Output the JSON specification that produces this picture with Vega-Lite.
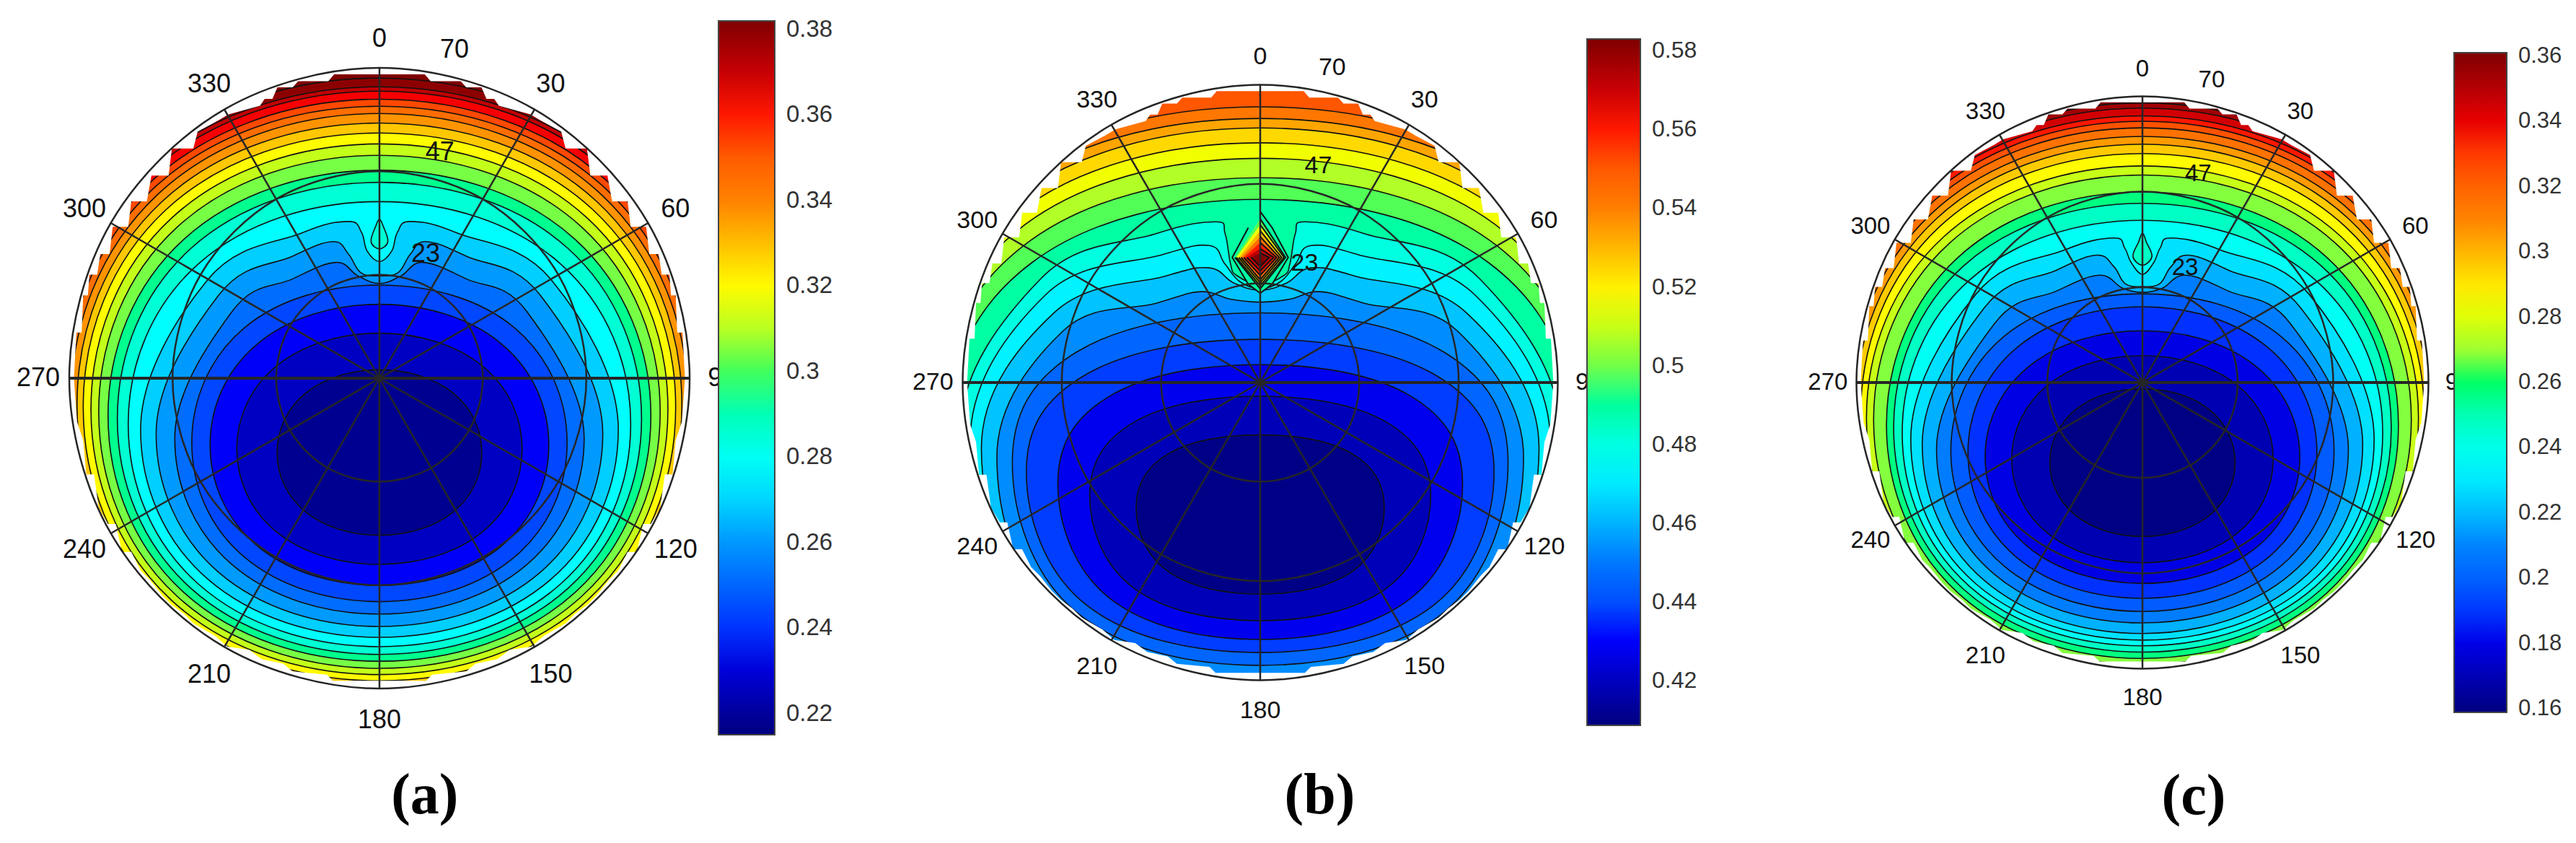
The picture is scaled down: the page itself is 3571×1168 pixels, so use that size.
{"$schema":"https://vega.github.io/schema/vega-lite/v6.json","padding":0,"spacing":0,"background":"white","config":{"view":{"stroke":null},"concat":{"spacing":0}},"resolve":{"scale":{"fill":"independent"},"legend":{"fill":"independent"}},
"datasets":{
"a":[
{"v":0.382,"o":0,"x":0,"y":1.18},{"v":0.382,"o":1,"x":0.9,"y":0.9},{"v":0.382,"o":2,"x":1.18,"y":0},{"v":0.382,"o":3,"x":0.9,"y":-0.9},{"v":0.382,"o":4,"x":0,"y":-1.18},{"v":0.382,"o":5,"x":-0.9,"y":-0.9},{"v":0.382,"o":6,"x":-1.18,"y":0},{"v":0.382,"o":7,"x":-0.9,"y":0.9},
{"v":0.3795,"o":0,"x":0,"y":0.967},{"v":0.3795,"o":1,"x":0.788,"y":0.675},{"v":0.3795,"o":2,"x":1.095,"y":-0.074},{"v":0.3795,"o":3,"x":0.788,"y":-0.824},{"v":0.3795,"o":4,"x":0,"y":-1.115},{"v":0.3795,"o":5,"x":-0.788,"y":-0.824},{"v":0.3795,"o":6,"x":-1.095,"y":-0.074},{"v":0.3795,"o":7,"x":-0.788,"y":0.675},
{"v":0.371,"o":0,"x":0,"y":0.939},{"v":0.371,"o":1,"x":0.774,"y":0.654},{"v":0.371,"o":2,"x":1.075,"y":-0.078},{"v":0.371,"o":3,"x":0.774,"y":-0.81},{"v":0.371,"o":4,"x":0,"y":-1.095},{"v":0.371,"o":5,"x":-0.774,"y":-0.81},{"v":0.371,"o":6,"x":-1.075,"y":-0.078},{"v":0.371,"o":7,"x":-0.774,"y":0.654},
{"v":0.3625,"o":0,"x":0,"y":0.925},{"v":0.3625,"o":1,"x":0.76,"y":0.645},{"v":0.3625,"o":2,"x":1.055,"y":-0.075},{"v":0.3625,"o":3,"x":0.76,"y":-0.795},{"v":0.3625,"o":4,"x":0,"y":-1.075},{"v":0.3625,"o":5,"x":-0.76,"y":-0.795},{"v":0.3625,"o":6,"x":-1.055,"y":-0.075},{"v":0.3625,"o":7,"x":-0.76,"y":0.645},
{"v":0.354,"o":0,"x":0,"y":0.899},{"v":0.354,"o":1,"x":0.745,"y":0.625},{"v":0.354,"o":2,"x":1.035,"y":-0.078},{"v":0.354,"o":3,"x":0.745,"y":-0.782},{"v":0.354,"o":4,"x":0,"y":-1.055},{"v":0.354,"o":5,"x":-0.745,"y":-0.782},{"v":0.354,"o":6,"x":-1.035,"y":-0.078},{"v":0.354,"o":7,"x":-0.745,"y":0.625},
{"v":0.3455,"o":0,"x":0,"y":0.876},{"v":0.3455,"o":1,"x":0.731,"y":0.609},{"v":0.3455,"o":2,"x":1.015,"y":-0.08},{"v":0.3455,"o":3,"x":0.731,"y":-0.767},{"v":0.3455,"o":4,"x":0,"y":-1.035},{"v":0.3455,"o":5,"x":-0.731,"y":-0.767},{"v":0.3455,"o":6,"x":-1.015,"y":-0.08},{"v":0.3455,"o":7,"x":-0.731,"y":0.609},
{"v":0.337,"o":0,"x":0,"y":0.853},{"v":0.337,"o":1,"x":0.716,"y":0.591},{"v":0.337,"o":2,"x":0.995,"y":-0.081},{"v":0.337,"o":3,"x":0.716,"y":-0.754},{"v":0.337,"o":4,"x":0,"y":-1.015},{"v":0.337,"o":5,"x":-0.716,"y":-0.754},{"v":0.337,"o":6,"x":-0.995,"y":-0.081},{"v":0.337,"o":7,"x":-0.716,"y":0.591},
{"v":0.3285,"o":0,"x":0,"y":0.822},{"v":0.3285,"o":1,"x":0.702,"y":0.568},{"v":0.3285,"o":2,"x":0.975,"y":-0.087},{"v":0.3285,"o":3,"x":0.702,"y":-0.74},{"v":0.3285,"o":4,"x":0,"y":-0.995},{"v":0.3285,"o":5,"x":-0.702,"y":-0.74},{"v":0.3285,"o":6,"x":-0.975,"y":-0.087},{"v":0.3285,"o":7,"x":-0.702,"y":0.568},
{"v":0.32,"o":0,"x":0,"y":0.79},{"v":0.32,"o":1,"x":0.688,"y":0.543},{"v":0.32,"o":2,"x":0.955,"y":-0.093},{"v":0.32,"o":3,"x":0.688,"y":-0.728},{"v":0.32,"o":4,"x":0,"y":-0.975},{"v":0.32,"o":5,"x":-0.688,"y":-0.728},{"v":0.32,"o":6,"x":-0.955,"y":-0.093},{"v":0.32,"o":7,"x":-0.688,"y":0.543},
{"v":0.3115,"o":0,"x":0,"y":0.755},{"v":0.3115,"o":1,"x":0.67,"y":0.516},{"v":0.3115,"o":2,"x":0.93,"y":-0.1},{"v":0.3115,"o":3,"x":0.67,"y":-0.716},{"v":0.3115,"o":4,"x":0,"y":-0.955},{"v":0.3115,"o":5,"x":-0.67,"y":-0.716},{"v":0.3115,"o":6,"x":-0.93,"y":-0.1},{"v":0.3115,"o":7,"x":-0.67,"y":0.516},
{"v":0.303,"o":0,"x":0,"y":0.718},{"v":0.303,"o":1,"x":0.652,"y":0.487},{"v":0.303,"o":2,"x":0.905,"y":-0.109},{"v":0.303,"o":3,"x":0.652,"y":-0.703},{"v":0.303,"o":4,"x":0,"y":-0.935},{"v":0.303,"o":5,"x":-0.652,"y":-0.703},{"v":0.303,"o":6,"x":-0.905,"y":-0.109},{"v":0.303,"o":7,"x":-0.652,"y":0.487},
{"v":0.2945,"o":0,"x":0,"y":0.67},{"v":0.2945,"o":1,"x":0.63,"y":0.448},{"v":0.2945,"o":2,"x":0.875,"y":-0.121},{"v":0.2945,"o":3,"x":0.63,"y":-0.691},{"v":0.2945,"o":4,"x":0,"y":-0.912},{"v":0.2945,"o":5,"x":-0.63,"y":-0.691},{"v":0.2945,"o":6,"x":-0.875,"y":-0.121},{"v":0.2945,"o":7,"x":-0.63,"y":0.448},
{"v":0.286,"o":0,"x":0,"y":0.631},{"v":0.286,"o":1,"x":0.608,"y":0.418},{"v":0.286,"o":2,"x":0.845,"y":-0.13},{"v":0.286,"o":3,"x":0.608,"y":-0.677},{"v":0.286,"o":4,"x":0,"y":-0.89},{"v":0.286,"o":5,"x":-0.608,"y":-0.677},{"v":0.286,"o":6,"x":-0.845,"y":-0.13},{"v":0.286,"o":7,"x":-0.608,"y":0.418},
{"v":0.2775,"o":0,"x":0,"y":0.569},{"v":0.2775,"o":1,"x":0.583,"y":0.369},{"v":0.2775,"o":2,"x":0.81,"y":-0.148},{"v":0.2775,"o":3,"x":0.583,"y":-0.664},{"v":0.2775,"o":4,"x":0,"y":-0.865},{"v":0.2775,"o":5,"x":-0.583,"y":-0.664},{"v":0.2775,"o":6,"x":-0.81,"y":-0.148},{"v":0.2775,"o":7,"x":-0.583,"y":0.369},
{"v":0.269,"o":0,"x":0,"y":0.376},{"v":0.269,"o":1,"x":0.04,"y":0.41},{"v":0.269,"o":2,"x":0.058,"y":0.47},{"v":0.269,"o":3,"x":0.1,"y":0.505},{"v":0.269,"o":4,"x":0.25,"y":0.468},{"v":0.269,"o":5,"x":0.554,"y":0.317},{"v":0.269,"o":6,"x":0.77,"y":-0.166},{"v":0.269,"o":7,"x":0.554,"y":-0.647},{"v":0.269,"o":8,"x":0,"y":-0.835},{"v":0.269,"o":9,"x":-0.554,"y":-0.647},{"v":0.269,"o":10,"x":-0.77,"y":-0.166},{"v":0.269,"o":11,"x":-0.554,"y":0.317},{"v":0.269,"o":12,"x":-0.25,"y":0.468},{"v":0.269,"o":13,"x":-0.1,"y":0.505},{"v":0.269,"o":14,"x":-0.058,"y":0.47},{"v":0.269,"o":15,"x":-0.04,"y":0.41},
{"v":0.2605,"o":0,"x":0,"y":0.33},{"v":0.2605,"o":1,"x":0.06,"y":0.34},{"v":0.2605,"o":2,"x":0.1,"y":0.4},{"v":0.2605,"o":3,"x":0.15,"y":0.44},{"v":0.2605,"o":4,"x":0.28,"y":0.393},{"v":0.2605,"o":5,"x":0.518,"y":0.268},{"v":0.2605,"o":6,"x":0.72,"y":-0.179},{"v":0.2605,"o":7,"x":0.518,"y":-0.626},{"v":0.2605,"o":8,"x":0,"y":-0.8},{"v":0.2605,"o":9,"x":-0.518,"y":-0.626},{"v":0.2605,"o":10,"x":-0.72,"y":-0.179},{"v":0.2605,"o":11,"x":-0.518,"y":0.268},{"v":0.2605,"o":12,"x":-0.28,"y":0.393},{"v":0.2605,"o":13,"x":-0.15,"y":0.44},{"v":0.2605,"o":14,"x":-0.1,"y":0.4},{"v":0.2605,"o":15,"x":-0.06,"y":0.34},
{"v":0.252,"o":0,"x":0,"y":0.305},{"v":0.252,"o":1,"x":0.07,"y":0.33},{"v":0.252,"o":2,"x":0.14,"y":0.373},{"v":0.252,"o":3,"x":0.28,"y":0.32},{"v":0.252,"o":4,"x":0.475,"y":0.215},{"v":0.252,"o":5,"x":0.66,"y":-0.194},{"v":0.252,"o":6,"x":0.475,"y":-0.601},{"v":0.252,"o":7,"x":0,"y":-0.76},{"v":0.252,"o":8,"x":-0.475,"y":-0.601},{"v":0.252,"o":9,"x":-0.66,"y":-0.194},{"v":0.252,"o":10,"x":-0.475,"y":0.215},{"v":0.252,"o":11,"x":-0.28,"y":0.32},{"v":0.252,"o":12,"x":-0.14,"y":0.373},{"v":0.252,"o":13,"x":-0.07,"y":0.33},
{"v":0.2435,"o":0,"x":0,"y":0.3},{"v":0.2435,"o":1,"x":0.436,"y":0.162},{"v":0.2435,"o":2,"x":0.605,"y":-0.208},{"v":0.2435,"o":3,"x":0.436,"y":-0.576},{"v":0.2435,"o":4,"x":0,"y":-0.72},{"v":0.2435,"o":5,"x":-0.436,"y":-0.576},{"v":0.2435,"o":6,"x":-0.605,"y":-0.208},{"v":0.2435,"o":7,"x":-0.436,"y":0.162},
{"v":0.235,"o":0,"x":0,"y":0.238},{"v":0.235,"o":1,"x":0.393,"y":0.111},{"v":0.235,"o":2,"x":0.546,"y":-0.215},{"v":0.235,"o":3,"x":0.393,"y":-0.541},{"v":0.235,"o":4,"x":0,"y":-0.668},{"v":0.235,"o":5,"x":-0.393,"y":-0.541},{"v":0.235,"o":6,"x":-0.546,"y":-0.215},{"v":0.235,"o":7,"x":-0.393,"y":0.111},
{"v":0.2265,"o":0,"x":0,"y":0.145},{"v":0.2265,"o":1,"x":0.331,"y":0.04},{"v":0.2265,"o":2,"x":0.46,"y":-0.228},{"v":0.2265,"o":3,"x":0.331,"y":-0.496},{"v":0.2265,"o":4,"x":0,"y":-0.6},{"v":0.2265,"o":5,"x":-0.331,"y":-0.496},{"v":0.2265,"o":6,"x":-0.46,"y":-0.228},{"v":0.2265,"o":7,"x":-0.331,"y":0.04},
{"v":0.218,"o":0,"x":0,"y":0.027},{"v":0.218,"o":1,"x":0.238,"y":-0.048},{"v":0.218,"o":2,"x":0.33,"y":-0.24},{"v":0.218,"o":3,"x":0.238,"y":-0.431},{"v":0.218,"o":4,"x":0,"y":-0.506},{"v":0.218,"o":5,"x":-0.238,"y":-0.431},{"v":0.218,"o":6,"x":-0.33,"y":-0.24},{"v":0.218,"o":7,"x":-0.238,"y":-0.048},
{"v":0.2861,"o":0,"x":0,"y":0.512},{"v":0.2861,"o":1,"x":0.012,"y":0.49},{"v":0.2861,"o":2,"x":0.027,"y":0.44},{"v":0.2861,"o":3,"x":0,"y":0.417},{"v":0.2861,"o":4,"x":-0.027,"y":0.44},{"v":0.2861,"o":5,"x":-0.012,"y":0.49}
],
"b":[
{"v":0.5508,"o":0,"x":0,"y":1.18},{"v":0.5508,"o":1,"x":0.9,"y":0.9},{"v":0.5508,"o":2,"x":1.18,"y":0},{"v":0.5508,"o":3,"x":0.9,"y":-0.9},{"v":0.5508,"o":4,"x":0,"y":-1.18},{"v":0.5508,"o":5,"x":-0.9,"y":-0.9},{"v":0.5508,"o":6,"x":-1.18,"y":0},{"v":0.5508,"o":7,"x":-0.9,"y":0.9},
{"v":0.542,"o":0,"x":0,"y":0.926},{"v":0.542,"o":1,"x":0.905,"y":0.646},{"v":0.542,"o":2,"x":1.17,"y":-0.11},{"v":0.542,"o":3,"x":0.905,"y":-0.971},{"v":0.542,"o":4,"x":0,"y":-1.19},{"v":0.542,"o":5,"x":-0.905,"y":-0.971},{"v":0.542,"o":6,"x":-1.17,"y":-0.11},{"v":0.542,"o":7,"x":-0.905,"y":0.646},
{"v":0.5332,"o":0,"x":0,"y":0.887},{"v":0.5332,"o":1,"x":0.883,"y":0.615},{"v":0.5332,"o":2,"x":1.16,"y":-0.12},{"v":0.5332,"o":3,"x":0.883,"y":-0.952},{"v":0.5332,"o":4,"x":0,"y":-1.185},{"v":0.5332,"o":5,"x":-0.883,"y":-0.952},{"v":0.5332,"o":6,"x":-1.16,"y":-0.12},{"v":0.5332,"o":7,"x":-0.883,"y":0.615},
{"v":0.5244,"o":0,"x":0,"y":0.855},{"v":0.5244,"o":1,"x":0.861,"y":0.589},{"v":0.5244,"o":2,"x":1.15,"y":-0.13},{"v":0.5244,"o":3,"x":0.861,"y":-0.933},{"v":0.5244,"o":4,"x":0,"y":-1.18},{"v":0.5244,"o":5,"x":-0.861,"y":-0.933},{"v":0.5244,"o":6,"x":-1.15,"y":-0.13},{"v":0.5244,"o":7,"x":-0.861,"y":0.589},
{"v":0.5156,"o":0,"x":0,"y":0.805},{"v":0.5156,"o":1,"x":0.84,"y":0.55},{"v":0.5156,"o":2,"x":1.14,"y":-0.14},{"v":0.5156,"o":3,"x":0.84,"y":-0.914},{"v":0.5156,"o":4,"x":0,"y":-1.175},{"v":0.5156,"o":5,"x":-0.84,"y":-0.914},{"v":0.5156,"o":6,"x":-1.14,"y":-0.14},{"v":0.5156,"o":7,"x":-0.84,"y":0.55},
{"v":0.5068,"o":0,"x":0,"y":0.753},{"v":0.5068,"o":1,"x":0.818,"y":0.509},{"v":0.5068,"o":2,"x":1.12,"y":-0.15},{"v":0.5068,"o":3,"x":0.818,"y":-0.895},{"v":0.5068,"o":4,"x":0,"y":-1.17},{"v":0.5068,"o":5,"x":-0.818,"y":-0.895},{"v":0.5068,"o":6,"x":-1.12,"y":-0.15},{"v":0.5068,"o":7,"x":-0.818,"y":0.509},
{"v":0.498,"o":0,"x":0,"y":0.688},{"v":0.498,"o":1,"x":0.796,"y":0.459},{"v":0.498,"o":2,"x":1.09,"y":-0.16},{"v":0.498,"o":3,"x":0.796,"y":-0.875},{"v":0.498,"o":4,"x":0,"y":-1.14},{"v":0.498,"o":5,"x":-0.796,"y":-0.875},{"v":0.498,"o":6,"x":-1.09,"y":-0.16},{"v":0.498,"o":7,"x":-0.796,"y":0.459},
{"v":0.4892,"o":0,"x":0,"y":0.615},{"v":0.4892,"o":1,"x":0.767,"y":0.403},{"v":0.4892,"o":2,"x":1.05,"y":-0.17},{"v":0.4892,"o":3,"x":0.767,"y":-0.856},{"v":0.4892,"o":4,"x":0,"y":-1.11},{"v":0.4892,"o":5,"x":-0.767,"y":-0.856},{"v":0.4892,"o":6,"x":-1.05,"y":-0.17},{"v":0.4892,"o":7,"x":-0.767,"y":0.403},
{"v":0.4804,"o":0,"x":0,"y":0.33},{"v":0.4804,"o":1,"x":0.08,"y":0.36},{"v":0.4804,"o":2,"x":0.1,"y":0.4},{"v":0.4804,"o":3,"x":0.118,"y":0.5},{"v":0.4804,"o":4,"x":0.15,"y":0.54},{"v":0.4804,"o":5,"x":0.35,"y":0.5},{"v":0.4804,"o":6,"x":0.737,"y":0.349},{"v":0.4804,"o":7,"x":1.01,"y":-0.18},{"v":0.4804,"o":8,"x":0.737,"y":-0.837},{"v":0.4804,"o":9,"x":0,"y":-1.08},{"v":0.4804,"o":10,"x":-0.737,"y":-0.837},{"v":0.4804,"o":11,"x":-1.01,"y":-0.18},{"v":0.4804,"o":12,"x":-0.737,"y":0.349},{"v":0.4804,"o":13,"x":-0.35,"y":0.5},{"v":0.4804,"o":14,"x":-0.15,"y":0.54},{"v":0.4804,"o":15,"x":-0.118,"y":0.5},{"v":0.4804,"o":16,"x":-0.1,"y":0.4},{"v":0.4804,"o":17,"x":-0.08,"y":0.36},
{"v":0.4716,"o":0,"x":0,"y":0.315},{"v":0.4716,"o":1,"x":0.07,"y":0.34},{"v":0.4716,"o":2,"x":0.12,"y":0.4},{"v":0.4716,"o":3,"x":0.17,"y":0.46},{"v":0.4716,"o":4,"x":0.33,"y":0.429},{"v":0.4716,"o":5,"x":0.722,"y":0.294},{"v":0.4716,"o":6,"x":0.975,"y":-0.2},{"v":0.4716,"o":7,"x":0.722,"y":-0.829},{"v":0.4716,"o":8,"x":0,"y":-1.05},{"v":0.4716,"o":9,"x":-0.722,"y":-0.829},{"v":0.4716,"o":10,"x":-0.975,"y":-0.2},{"v":0.4716,"o":11,"x":-0.722,"y":0.294},{"v":0.4716,"o":12,"x":-0.33,"y":0.429},{"v":0.4716,"o":13,"x":-0.17,"y":0.46},{"v":0.4716,"o":14,"x":-0.12,"y":0.4},{"v":0.4716,"o":15,"x":-0.07,"y":0.34},
{"v":0.4628,"o":0,"x":0,"y":0.31},{"v":0.4628,"o":1,"x":0.09,"y":0.335},{"v":0.4628,"o":2,"x":0.17,"y":0.385},{"v":0.4628,"o":3,"x":0.32,"y":0.357},{"v":0.4628,"o":4,"x":0.693,"y":0.234},{"v":0.4628,"o":5,"x":0.937,"y":-0.22},{"v":0.4628,"o":6,"x":0.693,"y":-0.812},{"v":0.4628,"o":7,"x":0,"y":-1.02},{"v":0.4628,"o":8,"x":-0.693,"y":-0.812},{"v":0.4628,"o":9,"x":-0.937,"y":-0.22},{"v":0.4628,"o":10,"x":-0.693,"y":0.234},{"v":0.4628,"o":11,"x":-0.32,"y":0.357},{"v":0.4628,"o":12,"x":-0.17,"y":0.385},{"v":0.4628,"o":13,"x":-0.09,"y":0.335},
{"v":0.454,"o":0,"x":0,"y":0.27},{"v":0.454,"o":1,"x":0.1,"y":0.28},{"v":0.454,"o":2,"x":0.2,"y":0.305},{"v":0.454,"o":3,"x":0.35,"y":0.266},{"v":0.454,"o":4,"x":0.664,"y":0.172},{"v":0.454,"o":5,"x":0.885,"y":-0.25},{"v":0.454,"o":6,"x":0.664,"y":-0.801},{"v":0.454,"o":7,"x":0,"y":-0.985},{"v":0.454,"o":8,"x":-0.664,"y":-0.801},{"v":0.454,"o":9,"x":-0.885,"y":-0.25},{"v":0.454,"o":10,"x":-0.664,"y":0.172},{"v":0.454,"o":11,"x":-0.35,"y":0.266},{"v":0.454,"o":12,"x":-0.2,"y":0.305},{"v":0.454,"o":13,"x":-0.1,"y":0.28},
{"v":0.4452,"o":0,"x":0,"y":0.234},{"v":0.4452,"o":1,"x":0.616,"y":0.103},{"v":0.4452,"o":2,"x":0.833,"y":-0.27},{"v":0.4452,"o":3,"x":0.616,"y":-0.773},{"v":0.4452,"o":4,"x":0,"y":-0.95},{"v":0.4452,"o":5,"x":-0.616,"y":-0.773},{"v":0.4452,"o":6,"x":-0.833,"y":-0.27},{"v":0.4452,"o":7,"x":-0.616,"y":0.103},
{"v":0.4364,"o":0,"x":0,"y":0.145},{"v":0.4364,"o":1,"x":0.582,"y":0.029},{"v":0.4364,"o":2,"x":0.786,"y":-0.3},{"v":0.4364,"o":3,"x":0.582,"y":-0.749},{"v":0.4364,"o":4,"x":0,"y":-0.907},{"v":0.4364,"o":5,"x":-0.582,"y":-0.749},{"v":0.4364,"o":6,"x":-0.786,"y":-0.3},{"v":0.4364,"o":7,"x":-0.582,"y":0.029},
{"v":0.4276,"o":0,"x":0,"y":0.06},{"v":0.4276,"o":1,"x":0.503,"y":-0.044},{"v":0.4276,"o":2,"x":0.68,"y":-0.34},{"v":0.4276,"o":3,"x":0.503,"y":-0.727},{"v":0.4276,"o":4,"x":0,"y":-0.863},{"v":0.4276,"o":5,"x":-0.503,"y":-0.727},{"v":0.4276,"o":6,"x":-0.68,"y":-0.34},{"v":0.4276,"o":7,"x":-0.503,"y":-0.044},
{"v":0.4188,"o":0,"x":0,"y":-0.046},{"v":0.4188,"o":1,"x":0.424,"y":-0.133},{"v":0.4188,"o":2,"x":0.573,"y":-0.38},{"v":0.4188,"o":3,"x":0.424,"y":-0.691},{"v":0.4188,"o":4,"x":0,"y":-0.8},{"v":0.4188,"o":5,"x":-0.424,"y":-0.691},{"v":0.4188,"o":6,"x":-0.573,"y":-0.38},{"v":0.4188,"o":7,"x":-0.424,"y":-0.133},
{"v":0.41,"o":0,"x":0,"y":-0.176},{"v":0.41,"o":1,"x":0.309,"y":-0.239},{"v":0.41,"o":2,"x":0.417,"y":-0.42},{"v":0.41,"o":3,"x":0.309,"y":-0.635},{"v":0.41,"o":4,"x":0,"y":-0.711},{"v":0.41,"o":5,"x":-0.309,"y":-0.635},{"v":0.41,"o":6,"x":-0.417,"y":-0.42},{"v":0.41,"o":7,"x":-0.309,"y":-0.239}
],
"bs":[
{"v":0.4893,"o":0,"x":0,"y":0.574},{"v":0.4893,"o":1,"x":0.04,"y":0.52},{"v":0.4893,"o":2,"x":0.094,"y":0.42},{"v":0.4893,"o":3,"x":0.04,"y":0.33},{"v":0.4893,"o":4,"x":0,"y":0.3},{"v":0.4893,"o":5,"x":-0.04,"y":0.33},{"v":0.4893,"o":6,"x":-0.094,"y":0.42},{"v":0.4893,"o":7,"x":-0.04,"y":0.52},
{"v":0.4981,"o":0,"x":0,"y":0.55},{"v":0.4981,"o":1,"x":0.085,"y":0.42},{"v":0.4981,"o":2,"x":0,"y":0.315},{"v":0.4981,"o":3,"x":-0.085,"y":0.42},
{"v":0.5157,"o":0,"x":0,"y":0.53},{"v":0.5157,"o":1,"x":0.08,"y":0.42},{"v":0.5157,"o":2,"x":0,"y":0.325},{"v":0.5157,"o":3,"x":-0.08,"y":0.42},
{"v":0.53,"o":0,"x":0,"y":0.51},{"v":0.53,"o":1,"x":0.072,"y":0.42},{"v":0.53,"o":2,"x":0,"y":0.335},{"v":0.53,"o":3,"x":-0.072,"y":0.42},
{"v":0.545,"o":0,"x":0,"y":0.49},{"v":0.545,"o":1,"x":0.064,"y":0.42},{"v":0.545,"o":2,"x":0,"y":0.345},{"v":0.545,"o":3,"x":-0.064,"y":0.42},
{"v":0.56,"o":0,"x":0,"y":0.47},{"v":0.56,"o":1,"x":0.055,"y":0.42},{"v":0.56,"o":2,"x":0,"y":0.36},{"v":0.56,"o":3,"x":-0.055,"y":0.42},
{"v":0.572,"o":0,"x":0,"y":0.45},{"v":0.572,"o":1,"x":0.045,"y":0.42},{"v":0.572,"o":2,"x":0,"y":0.375},{"v":0.572,"o":3,"x":-0.045,"y":0.42},
{"v":0.582,"o":0,"x":0,"y":0.435},{"v":0.582,"o":1,"x":0.03,"y":0.42},{"v":0.582,"o":2,"x":0,"y":0.39},{"v":0.582,"o":3,"x":-0.03,"y":0.42}
],
"c":[
{"v":0.361,"o":0,"x":0,"y":1.18},{"v":0.361,"o":1,"x":0.9,"y":0.9},{"v":0.361,"o":2,"x":1.18,"y":0},{"v":0.361,"o":3,"x":0.9,"y":-0.9},{"v":0.361,"o":4,"x":0,"y":-1.18},{"v":0.361,"o":5,"x":-0.9,"y":-0.9},{"v":0.361,"o":6,"x":-1.18,"y":0},{"v":0.361,"o":7,"x":-0.9,"y":0.9},
{"v":0.354,"o":0,"x":0,"y":0.977},{"v":0.354,"o":1,"x":0.81,"y":0.677},{"v":0.354,"o":2,"x":1.125,"y":-0.094},{"v":0.354,"o":3,"x":0.81,"y":-0.865},{"v":0.354,"o":4,"x":0,"y":-1.165},{"v":0.354,"o":5,"x":-0.81,"y":-0.865},{"v":0.354,"o":6,"x":-1.125,"y":-0.094},{"v":0.354,"o":7,"x":-0.81,"y":0.677},
{"v":0.3443,"o":0,"x":0,"y":0.959},{"v":0.3443,"o":1,"x":0.795,"y":0.664},{"v":0.3443,"o":2,"x":1.105,"y":-0.093},{"v":0.3443,"o":3,"x":0.795,"y":-0.85},{"v":0.3443,"o":4,"x":0,"y":-1.145},{"v":0.3443,"o":5,"x":-0.795,"y":-0.85},{"v":0.3443,"o":6,"x":-1.105,"y":-0.093},{"v":0.3443,"o":7,"x":-0.795,"y":0.664},
{"v":0.3346,"o":0,"x":0,"y":0.932},{"v":0.3346,"o":1,"x":0.781,"y":0.644},{"v":0.3346,"o":2,"x":1.085,"y":-0.097},{"v":0.3346,"o":3,"x":0.781,"y":-0.837},{"v":0.3346,"o":4,"x":0,"y":-1.125},{"v":0.3346,"o":5,"x":-0.781,"y":-0.837},{"v":0.3346,"o":6,"x":-1.085,"y":-0.097},{"v":0.3346,"o":7,"x":-0.781,"y":0.644},
{"v":0.3249,"o":0,"x":0,"y":0.913},{"v":0.3249,"o":1,"x":0.766,"y":0.63},{"v":0.3249,"o":2,"x":1.065,"y":-0.096},{"v":0.3249,"o":3,"x":0.766,"y":-0.823},{"v":0.3249,"o":4,"x":0,"y":-1.105},{"v":0.3249,"o":5,"x":-0.766,"y":-0.823},{"v":0.3249,"o":6,"x":-1.065,"y":-0.096},{"v":0.3249,"o":7,"x":-0.766,"y":0.63},
{"v":0.3152,"o":0,"x":0,"y":0.89},{"v":0.3152,"o":1,"x":0.752,"y":0.614},{"v":0.3152,"o":2,"x":1.045,"y":-0.098},{"v":0.3152,"o":3,"x":0.752,"y":-0.808},{"v":0.3152,"o":4,"x":0,"y":-1.085},{"v":0.3152,"o":5,"x":-0.752,"y":-0.808},{"v":0.3152,"o":6,"x":-1.045,"y":-0.098},{"v":0.3152,"o":7,"x":-0.752,"y":0.614},
{"v":0.3055,"o":0,"x":0,"y":0.86},{"v":0.3055,"o":1,"x":0.738,"y":0.59},{"v":0.3055,"o":2,"x":1.025,"y":-0.102},{"v":0.3055,"o":3,"x":0.738,"y":-0.796},{"v":0.3055,"o":4,"x":0,"y":-1.065},{"v":0.3055,"o":5,"x":-0.738,"y":-0.796},{"v":0.3055,"o":6,"x":-1.025,"y":-0.102},{"v":0.3055,"o":7,"x":-0.738,"y":0.59},
{"v":0.2958,"o":0,"x":0,"y":0.833},{"v":0.2958,"o":1,"x":0.723,"y":0.57},{"v":0.2958,"o":2,"x":1.005,"y":-0.106},{"v":0.2958,"o":3,"x":0.723,"y":-0.782},{"v":0.2958,"o":4,"x":0,"y":-1.045},{"v":0.2958,"o":5,"x":-0.723,"y":-0.782},{"v":0.2958,"o":6,"x":-1.005,"y":-0.106},{"v":0.2958,"o":7,"x":-0.723,"y":0.57},
{"v":0.2861,"o":0,"x":0,"y":0.8},{"v":0.2861,"o":1,"x":0.709,"y":0.545},{"v":0.2861,"o":2,"x":0.985,"y":-0.112},{"v":0.2861,"o":3,"x":0.709,"y":-0.769},{"v":0.2861,"o":4,"x":0,"y":-1.025},{"v":0.2861,"o":5,"x":-0.709,"y":-0.769},{"v":0.2861,"o":6,"x":-0.985,"y":-0.112},{"v":0.2861,"o":7,"x":-0.709,"y":0.545},
{"v":0.2764,"o":0,"x":0,"y":0.757},{"v":0.2764,"o":1,"x":0.694,"y":0.51},{"v":0.2764,"o":2,"x":0.965,"y":-0.124},{"v":0.2764,"o":3,"x":0.694,"y":-0.759},{"v":0.2764,"o":4,"x":0,"y":-1.005},{"v":0.2764,"o":5,"x":-0.694,"y":-0.759},{"v":0.2764,"o":6,"x":-0.965,"y":-0.124},{"v":0.2764,"o":7,"x":-0.694,"y":0.51},
{"v":0.2667,"o":0,"x":0,"y":0.725},{"v":0.2667,"o":1,"x":0.676,"y":0.486},{"v":0.2667,"o":2,"x":0.94,"y":-0.13},{"v":0.2667,"o":3,"x":0.676,"y":-0.745},{"v":0.2667,"o":4,"x":0,"y":-0.985},{"v":0.2667,"o":5,"x":-0.676,"y":-0.745},{"v":0.2667,"o":6,"x":-0.94,"y":-0.13},{"v":0.2667,"o":7,"x":-0.676,"y":0.486},
{"v":0.257,"o":0,"x":0,"y":0.666},{"v":0.257,"o":1,"x":0.644,"y":0.438},{"v":0.257,"o":2,"x":0.895,"y":-0.149},{"v":0.257,"o":3,"x":0.644,"y":-0.736},{"v":0.257,"o":4,"x":0,"y":-0.964},{"v":0.257,"o":5,"x":-0.644,"y":-0.736},{"v":0.257,"o":6,"x":-0.895,"y":-0.149},{"v":0.257,"o":7,"x":-0.644,"y":0.438},
{"v":0.2473,"o":0,"x":0,"y":0.626},{"v":0.2473,"o":1,"x":0.626,"y":0.407},{"v":0.2473,"o":2,"x":0.87,"y":-0.158},{"v":0.2473,"o":3,"x":0.626,"y":-0.722},{"v":0.2473,"o":4,"x":0,"y":-0.942},{"v":0.2473,"o":5,"x":-0.626,"y":-0.722},{"v":0.2473,"o":6,"x":-0.87,"y":-0.158},{"v":0.2473,"o":7,"x":-0.626,"y":0.407},
{"v":0.2376,"o":0,"x":0,"y":0.567},{"v":0.2376,"o":1,"x":0.605,"y":0.358},{"v":0.2376,"o":2,"x":0.84,"y":-0.177},{"v":0.2376,"o":3,"x":0.605,"y":-0.712},{"v":0.2376,"o":4,"x":0,"y":-0.92},{"v":0.2376,"o":5,"x":-0.605,"y":-0.712},{"v":0.2376,"o":6,"x":-0.84,"y":-0.177},{"v":0.2376,"o":7,"x":-0.605,"y":0.358},
{"v":0.2279,"o":0,"x":0,"y":0.378},{"v":0.2279,"o":1,"x":0.04,"y":0.42},{"v":0.2279,"o":2,"x":0.062,"y":0.47},{"v":0.2279,"o":3,"x":0.1,"y":0.505},{"v":0.2279,"o":4,"x":0.27,"y":0.464},{"v":0.2279,"o":5,"x":0.583,"y":0.308},{"v":0.2279,"o":6,"x":0.81,"y":-0.198},{"v":0.2279,"o":7,"x":0.583,"y":-0.703},{"v":0.2279,"o":8,"x":0,"y":-0.9},{"v":0.2279,"o":9,"x":-0.583,"y":-0.703},{"v":0.2279,"o":10,"x":-0.81,"y":-0.198},{"v":0.2279,"o":11,"x":-0.583,"y":0.308},{"v":0.2279,"o":12,"x":-0.27,"y":0.464},{"v":0.2279,"o":13,"x":-0.1,"y":0.505},{"v":0.2279,"o":14,"x":-0.062,"y":0.47},{"v":0.2279,"o":15,"x":-0.04,"y":0.42},
{"v":0.2182,"o":0,"x":0,"y":0.335},{"v":0.2182,"o":1,"x":0.06,"y":0.345},{"v":0.2182,"o":2,"x":0.1,"y":0.405},{"v":0.2182,"o":3,"x":0.16,"y":0.445},{"v":0.2182,"o":4,"x":0.3,"y":0.393},{"v":0.2182,"o":5,"x":0.554,"y":0.26},{"v":0.2182,"o":6,"x":0.77,"y":-0.216},{"v":0.2182,"o":7,"x":0.554,"y":-0.691},{"v":0.2182,"o":8,"x":0,"y":-0.877},{"v":0.2182,"o":9,"x":-0.554,"y":-0.691},{"v":0.2182,"o":10,"x":-0.77,"y":-0.216},{"v":0.2182,"o":11,"x":-0.554,"y":0.26},{"v":0.2182,"o":12,"x":-0.3,"y":0.393},{"v":0.2182,"o":13,"x":-0.16,"y":0.445},{"v":0.2182,"o":14,"x":-0.1,"y":0.405},{"v":0.2182,"o":15,"x":-0.06,"y":0.345},
{"v":0.2085,"o":0,"x":0,"y":0.315},{"v":0.2085,"o":1,"x":0.07,"y":0.33},{"v":0.2085,"o":2,"x":0.15,"y":0.375},{"v":0.2085,"o":3,"x":0.3,"y":0.32},{"v":0.2085,"o":4,"x":0.518,"y":0.205},{"v":0.2085,"o":5,"x":0.72,"y":-0.233},{"v":0.2085,"o":6,"x":0.518,"y":-0.67},{"v":0.2085,"o":7,"x":0,"y":-0.84},{"v":0.2085,"o":8,"x":-0.518,"y":-0.67},{"v":0.2085,"o":9,"x":-0.72,"y":-0.233},{"v":0.2085,"o":10,"x":-0.518,"y":0.205},{"v":0.2085,"o":11,"x":-0.3,"y":0.32},{"v":0.2085,"o":12,"x":-0.15,"y":0.375},{"v":0.2085,"o":13,"x":-0.07,"y":0.33},
{"v":0.1988,"o":0,"x":0,"y":0.31},{"v":0.1988,"o":1,"x":0.482,"y":0.163},{"v":0.1988,"o":2,"x":0.67,"y":-0.24},{"v":0.1988,"o":3,"x":0.482,"y":-0.643},{"v":0.1988,"o":4,"x":0,"y":-0.8},{"v":0.1988,"o":5,"x":-0.482,"y":-0.643},{"v":0.1988,"o":6,"x":-0.67,"y":-0.24},{"v":0.1988,"o":7,"x":-0.482,"y":0.163},
{"v":0.1891,"o":0,"x":0,"y":0.265},{"v":0.1891,"o":1,"x":0.439,"y":0.122},{"v":0.1891,"o":2,"x":0.61,"y":-0.245},{"v":0.1891,"o":3,"x":0.439,"y":-0.612},{"v":0.1891,"o":4,"x":0,"y":-0.754},{"v":0.1891,"o":5,"x":-0.439,"y":-0.612},{"v":0.1891,"o":6,"x":-0.61,"y":-0.245},{"v":0.1891,"o":7,"x":-0.439,"y":0.122},
{"v":0.1794,"o":0,"x":0,"y":0.181},{"v":0.1794,"o":1,"x":0.396,"y":0.057},{"v":0.1794,"o":2,"x":0.55,"y":-0.26},{"v":0.1794,"o":3,"x":0.396,"y":-0.578},{"v":0.1794,"o":4,"x":0,"y":-0.702},{"v":0.1794,"o":5,"x":-0.396,"y":-0.578},{"v":0.1794,"o":6,"x":-0.55,"y":-0.26},{"v":0.1794,"o":7,"x":-0.396,"y":0.057},
{"v":0.1697,"o":0,"x":0,"y":0.094},{"v":0.1697,"o":1,"x":0.329,"y":-0.007},{"v":0.1697,"o":2,"x":0.457,"y":-0.268},{"v":0.1697,"o":3,"x":0.329,"y":-0.529},{"v":0.1697,"o":4,"x":0,"y":-0.63},{"v":0.1697,"o":5,"x":-0.329,"y":-0.529},{"v":0.1697,"o":6,"x":-0.457,"y":-0.268},{"v":0.1697,"o":7,"x":-0.329,"y":-0.007},
{"v":0.16,"o":0,"x":0,"y":-0.022},{"v":0.16,"o":1,"x":0.233,"y":-0.094},{"v":0.16,"o":2,"x":0.324,"y":-0.28},{"v":0.16,"o":3,"x":0.233,"y":-0.465},{"v":0.16,"o":4,"x":0,"y":-0.538},{"v":0.16,"o":5,"x":-0.233,"y":-0.465},{"v":0.16,"o":6,"x":-0.324,"y":-0.28},{"v":0.16,"o":7,"x":-0.233,"y":-0.094},
{"v":0.2474,"o":0,"x":0,"y":0.522},{"v":0.2474,"o":1,"x":0.014,"y":0.49},{"v":0.2474,"o":2,"x":0.033,"y":0.44},{"v":0.2474,"o":3,"x":0,"y":0.41},{"v":0.2474,"o":4,"x":-0.033,"y":0.44},{"v":0.2474,"o":5,"x":-0.014,"y":0.49}
],
"mask":[
{"o":0,"x":0,"y":1.21},{"o":1,"x":1.21,"y":1.21},{"o":2,"x":1.21,"y":-1.21},{"o":3,"x":-1.21,"y":-1.21},{"o":4,"x":-1.21,"y":1.21},{"o":5,"x":0,"y":1.21},
{"o":6,"x":0,"y":0.979},{"o":7,"x":-0.146,"y":0.979},{"o":8,"x":-0.165,"y":0.957},{"o":9,"x":-0.262,"y":0.957},{"o":10,"x":-0.28,"y":0.937},{"o":11,"x":-0.329,"y":0.937},{"o":12,"x":-0.345,"y":0.9},{"o":13,"x":-0.37,"y":0.9},{"o":14,"x":-0.385,"y":0.878},{"o":15,"x":-0.487,"y":0.85},{"o":16,"x":-0.52,"y":0.83},{"o":17,"x":-0.586,"y":0.795},{"o":18,"x":-0.6,"y":0.74},{"o":19,"x":-0.669,"y":0.74},{"o":20,"x":-0.68,"y":0.653},{"o":21,"x":-0.735,"y":0.653},{"o":22,"x":-0.75,"y":0.57},{"o":23,"x":-0.8,"y":0.57},{"o":24,"x":-0.81,"y":0.488},{"o":25,"x":-0.86,"y":0.488},{"o":26,"x":-0.87,"y":0.4},{"o":27,"x":-0.9,"y":0.4},{"o":28,"x":-0.91,"y":0.334},{"o":29,"x":-0.935,"y":0.334},{"o":30,"x":-0.94,"y":0.267},{"o":31,"x":-0.955,"y":0.267},{"o":32,"x":-0.96,"y":0.147},{"o":33,"x":-0.977,"y":0.147},{"o":34,"x":-0.985,"y":0},
{"o":35,"x":-0.975,"y":-0.14},{"o":36,"x":-0.955,"y":-0.2},{"o":37,"x":-0.945,"y":-0.31},{"o":38,"x":-0.92,"y":-0.31},{"o":39,"x":-0.905,"y":-0.42},{"o":40,"x":-0.875,"y":-0.47},{"o":41,"x":-0.85,"y":-0.47},{"o":42,"x":-0.83,"y":-0.56},{"o":43,"x":-0.8,"y":-0.56},{"o":44,"x":-0.77,"y":-0.62},{"o":45,"x":-0.74,"y":-0.65},{"o":46,"x":-0.7,"y":-0.7},{"o":47,"x":-0.67,"y":-0.73},{"o":48,"x":-0.63,"y":-0.76},{"o":49,"x":-0.6,"y":-0.79},{"o":50,"x":-0.53,"y":-0.83},{"o":51,"x":-0.49,"y":-0.865},{"o":52,"x":-0.42,"y":-0.875},{"o":53,"x":-0.38,"y":-0.905},{"o":54,"x":-0.31,"y":-0.92},{"o":55,"x":-0.28,"y":-0.945},{"o":56,"x":-0.17,"y":-0.955},{"o":57,"x":-0.15,"y":-0.975},{"o":58,"x":0,"y":-0.975},
{"o":59,"x":0.15,"y":-0.975},{"o":60,"x":0.17,"y":-0.955},{"o":61,"x":0.28,"y":-0.945},{"o":62,"x":0.31,"y":-0.92},{"o":63,"x":0.38,"y":-0.905},{"o":64,"x":0.42,"y":-0.875},{"o":65,"x":0.49,"y":-0.865},{"o":66,"x":0.53,"y":-0.83},{"o":67,"x":0.6,"y":-0.79},{"o":68,"x":0.63,"y":-0.76},{"o":69,"x":0.67,"y":-0.73},{"o":70,"x":0.7,"y":-0.7},{"o":71,"x":0.74,"y":-0.65},{"o":72,"x":0.77,"y":-0.62},{"o":73,"x":0.8,"y":-0.56},{"o":74,"x":0.83,"y":-0.56},{"o":75,"x":0.85,"y":-0.47},{"o":76,"x":0.875,"y":-0.47},{"o":77,"x":0.905,"y":-0.42},{"o":78,"x":0.92,"y":-0.31},{"o":79,"x":0.945,"y":-0.31},{"o":80,"x":0.955,"y":-0.2},{"o":81,"x":0.975,"y":-0.14},{"o":82,"x":0.985,"y":0},
{"o":83,"x":0.977,"y":0.147},{"o":84,"x":0.96,"y":0.147},{"o":85,"x":0.955,"y":0.267},{"o":86,"x":0.94,"y":0.267},{"o":87,"x":0.935,"y":0.334},{"o":88,"x":0.91,"y":0.334},{"o":89,"x":0.9,"y":0.4},{"o":90,"x":0.87,"y":0.4},{"o":91,"x":0.86,"y":0.488},{"o":92,"x":0.81,"y":0.488},{"o":93,"x":0.8,"y":0.57},{"o":94,"x":0.75,"y":0.57},{"o":95,"x":0.735,"y":0.653},{"o":96,"x":0.68,"y":0.653},{"o":97,"x":0.669,"y":0.74},{"o":98,"x":0.6,"y":0.74},{"o":99,"x":0.586,"y":0.795},{"o":100,"x":0.52,"y":0.83},{"o":101,"x":0.487,"y":0.85},{"o":102,"x":0.385,"y":0.878},{"o":103,"x":0.37,"y":0.9},{"o":104,"x":0.345,"y":0.9},{"o":105,"x":0.329,"y":0.937},{"o":106,"x":0.28,"y":0.937},{"o":107,"x":0.262,"y":0.957},{"o":108,"x":0.165,"y":0.957},{"o":109,"x":0.146,"y":0.979},{"o":110,"x":0,"y":0.979}
],
"grid":[
{"r":1,"o":0,"x":0,"y":1},{"r":1,"o":1,"x":0.5,"y":0.866},{"r":1,"o":2,"x":0.866,"y":0.5},{"r":1,"o":3,"x":1,"y":0},{"r":1,"o":4,"x":0.866,"y":-0.5},{"r":1,"o":5,"x":0.5,"y":-0.866},{"r":1,"o":6,"x":0,"y":-1},{"r":1,"o":7,"x":-0.5,"y":-0.866},{"r":1,"o":8,"x":-0.866,"y":-0.5},{"r":1,"o":9,"x":-1,"y":0},{"r":1,"o":10,"x":-0.866,"y":0.5},{"r":1,"o":11,"x":-0.5,"y":0.866},
{"r":0.667,"o":0,"x":0,"y":0.667},{"r":0.667,"o":1,"x":0.333,"y":0.577},{"r":0.667,"o":2,"x":0.577,"y":0.333},{"r":0.667,"o":3,"x":0.667,"y":0},{"r":0.667,"o":4,"x":0.577,"y":-0.333},{"r":0.667,"o":5,"x":0.333,"y":-0.577},{"r":0.667,"o":6,"x":0,"y":-0.667},{"r":0.667,"o":7,"x":-0.333,"y":-0.577},{"r":0.667,"o":8,"x":-0.577,"y":-0.333},{"r":0.667,"o":9,"x":-0.667,"y":0},{"r":0.667,"o":10,"x":-0.577,"y":0.333},{"r":0.667,"o":11,"x":-0.333,"y":0.577},
{"r":0.333,"o":0,"x":0,"y":0.333},{"r":0.333,"o":1,"x":0.167,"y":0.289},{"r":0.333,"o":2,"x":0.289,"y":0.167},{"r":0.333,"o":3,"x":0.333,"y":0},{"r":0.333,"o":4,"x":0.289,"y":-0.167},{"r":0.333,"o":5,"x":0.167,"y":-0.289},{"r":0.333,"o":6,"x":0,"y":-0.333},{"r":0.333,"o":7,"x":-0.167,"y":-0.289},{"r":0.333,"o":8,"x":-0.289,"y":-0.167},{"r":0.333,"o":9,"x":-0.333,"y":0},{"r":0.333,"o":10,"x":-0.289,"y":0.167},{"r":0.333,"o":11,"x":-0.167,"y":0.289}
],
"spokes":[{"x":0,"y":1,"x2":0,"y2":-1},{"x":0.5,"y":0.866,"x2":-0.5,"y2":-0.866},{"x":0.866,"y":0.5,"x2":-0.866,"y2":-0.5},{"x":0.866,"y":-0.5,"x2":-0.866,"y2":0.5},{"x":0.5,"y":-0.866,"x2":-0.5,"y2":0.866}],
"hspoke":[{"x":-1,"y":0,"x2":1,"y2":0}],
"labels":[{"t":"0","x":0,"y":1.094},{"t":"70","x":0.242,"y":1.058},{"t":"30","x":0.552,"y":0.947},{"t":"330","x":-0.549,"y":0.947},{"t":"60","x":0.954,"y":0.544},{"t":"300","x":-0.951,"y":0.544},{"t":"90","x":1.105,"y":0},{"t":"270","x":-1.1,"y":0},{"t":"120","x":0.955,"y":-0.553},{"t":"240","x":-0.951,"y":-0.553},{"t":"150","x":0.552,"y":-0.955},{"t":"210","x":-0.549,"y":-0.955},{"t":"180","x":0,"y":-1.102},{"t":"47","x":0.195,"y":0.728},{"t":"23","x":0.149,"y":0.4}]
},
"hconcat":[
{"width":1160,"height":1168,
"encoding":{"x":{"field":"x","type":"quantitative","axis":null,"scale":{"domain":[-1.2233,1.4744],"nice":false,"zero":false}},"y":{"field":"y","type":"quantitative","axis":null,"scale":{"domain":[-1.4977,1.2186],"nice":false,"zero":false}}},
"layer":[
{"data":{"name":"a"},"mark":{"type":"line","interpolate":"cardinal-closed","tension":-0.12,"stroke":"#111111","strokeWidth":1.6},"encoding":{"detail":{"field":"v"},"order":{"field":"o"},"fill":{"field":"v","type":"quantitative","scale":{"domain":[0.2151,0.236,0.2568,0.2777,0.2986,0.3036,0.3194,0.3403,0.3611,0.382],"range":["#00007f","#0000ff","#0080ff","#00ffff","#00ff66","#7fff40","#ffff00","#ff8000","#ff0000","#7f0000"],"clamp":true},"legend":{"orient":"none","legendX":996,"legendY":29,"title":null,"gradientLength":989,"gradientThickness":78,"values":[0.22,0.24,0.26,0.28,0.3,0.32,0.34,0.36,0.38],"format":".2~f","labelFont":"Liberation Sans","labelFontSize":33,"labelColor":"#333333","labelOffset":16,"labelOverlap":false,"labelFlush":false,"gradientStrokeColor":"#444444","gradientStrokeWidth":2}}}},
{"data":{"name":"mask"},"mark":{"type":"line","fill":"white","stroke":null,"strokeWidth":0},"encoding":{"order":{"field":"o"}}},
{"data":{"name":"grid"},"mark":{"type":"line","interpolate":"cardinal-closed","stroke":"#262626","strokeWidth":2.5,"fill":null},"encoding":{"detail":{"field":"r"},"order":{"field":"o"}}},
{"data":{"name":"spokes"},"mark":{"type":"rule","stroke":"#262626","strokeWidth":2.5},"encoding":{"x2":{"field":"x2"},"y2":{"field":"y2"}}},
{"data":{"name":"hspoke"},"mark":{"type":"rule","stroke":"#262626","strokeWidth":4},"encoding":{"x2":{"field":"x2"},"y2":{"field":"y2"}}},
{"data":{"name":"labels"},"mark":{"type":"text","font":"Liberation Sans","fontSize":36,"fill":"#111111","align":"center","baseline":"middle"},"encoding":{"text":{"field":"t"}}},
{"data":{"values":[{"t":"(a)","x":0.146,"y":-1.347}]},"mark":{"type":"text","font":"Liberation Serif","fontWeight":"bold","fontSize":80,"fill":"black","align":"center","baseline":"middle"},"encoding":{"text":{"field":"t"}}}
]},
{"width":1200,"height":1168,
"encoding":{"x":{"field":"x","type":"quantitative","axis":null,"scale":{"domain":[-1.423,1.4861],"nice":false,"zero":false}},"y":{"field":"y","type":"quantitative","axis":null,"scale":{"domain":[-1.5467,1.2848],"nice":false,"zero":false}}},
"layer":[
{"data":{"name":"b"},"mark":{"type":"line","interpolate":"cardinal-closed","tension":-0.12,"stroke":"#111111","strokeWidth":1.6},"encoding":{"detail":{"field":"v"},"order":{"field":"o"},"fill":{"field":"v","type":"quantitative","scale":{"domain":[0.4086,0.4304,0.4522,0.474,0.4958,0.501,0.5176,0.5394,0.5612,0.583],"range":["#00007f","#0000ff","#0080ff","#00ffff","#00ff66","#7fff40","#ffff00","#ff8000","#ff0000","#7f0000"],"clamp":true},"legend":{"orient":"none","legendX":1040,"legendY":54,"title":null,"gradientLength":951,"gradientThickness":74,"values":[0.42,0.44,0.46,0.48,0.5,0.52,0.54,0.56,0.58],"format":".2~f","labelFont":"Liberation Sans","labelFontSize":32,"labelColor":"#333333","labelOffset":16,"labelOverlap":false,"labelFlush":false,"gradientStrokeColor":"#444444","gradientStrokeWidth":2}}}},
{"data":{"name":"bs"},"mark":{"type":"line","stroke":"#111111","strokeWidth":2},"encoding":{"detail":{"field":"v"},"order":{"field":"o"},"fill":{"field":"v","type":"quantitative","scale":{"domain":[0.4086,0.4304,0.4522,0.474,0.4958,0.501,0.5176,0.5394,0.5612,0.583],"range":["#00007f","#0000ff","#0080ff","#00ffff","#00ff66","#7fff40","#ffff00","#ff8000","#ff0000","#7f0000"],"clamp":true},"legend":null}}},
{"data":{"name":"mask"},"mark":{"type":"line","fill":"white","stroke":null,"strokeWidth":0},"encoding":{"order":{"field":"o"}}},
{"data":{"name":"grid"},"mark":{"type":"line","interpolate":"cardinal-closed","stroke":"#262626","strokeWidth":2.5,"fill":null},"encoding":{"detail":{"field":"r"},"order":{"field":"o"}}},
{"data":{"name":"spokes"},"mark":{"type":"rule","stroke":"#262626","strokeWidth":2.5},"encoding":{"x2":{"field":"x2"},"y2":{"field":"y2"}}},
{"data":{"name":"hspoke"},"mark":{"type":"rule","stroke":"#262626","strokeWidth":4},"encoding":{"x2":{"field":"x2"},"y2":{"field":"y2"}}},
{"data":{"name":"labels"},"mark":{"type":"text","font":"Liberation Sans","fontSize":34,"fill":"#111111","align":"center","baseline":"middle"},"encoding":{"text":{"field":"t"}}},
{"data":{"values":[{"t":"(b)","x":0.2,"y":-1.389}]},"mark":{"type":"text","font":"Liberation Serif","fontWeight":"bold","fontSize":80,"fill":"black","align":"center","baseline":"middle"},"encoding":{"text":{"field":"t"}}}
]},
{"width":1211,"height":1168,
"encoding":{"x":{"field":"x","type":"quantitative","axis":null,"scale":{"domain":[-1.5385,1.5158],"nice":false,"zero":false}},"y":{"field":"y","type":"quantitative","axis":null,"scale":{"domain":[-1.6091,1.3367],"nice":false,"zero":false}}},
"layer":[
{"data":{"name":"c"},"mark":{"type":"line","interpolate":"cardinal-closed","tension":-0.12,"stroke":"#111111","strokeWidth":1.6},"encoding":{"detail":{"field":"v"},"order":{"field":"o"},"fill":{"field":"v","type":"quantitative","scale":{"domain":[0.159,0.1843,0.2095,0.2348,0.26,0.2661,0.2853,0.3105,0.3358,0.361],"range":["#00007f","#0000ff","#0080ff","#00ffff","#00ff66","#7fff40","#ffff00","#ff8000","#ff0000","#7f0000"],"clamp":true},"legend":{"orient":"none","legendX":1042,"legendY":73,"title":null,"gradientLength":914,"gradientThickness":73,"values":[0.16,0.18,0.2,0.22,0.24,0.26,0.28,0.3,0.32,0.34,0.36],"format":".2~f","labelFont":"Liberation Sans","labelFontSize":31,"labelColor":"#333333","labelOffset":16,"labelOverlap":false,"labelFlush":false,"gradientStrokeColor":"#444444","gradientStrokeWidth":2}}}},
{"data":{"name":"mask"},"mark":{"type":"line","fill":"white","stroke":null,"strokeWidth":0},"encoding":{"order":{"field":"o"}}},
{"data":{"name":"grid"},"mark":{"type":"line","interpolate":"cardinal-closed","stroke":"#262626","strokeWidth":2.5,"fill":null},"encoding":{"detail":{"field":"r"},"order":{"field":"o"}}},
{"data":{"name":"spokes"},"mark":{"type":"rule","stroke":"#262626","strokeWidth":2.5},"encoding":{"x2":{"field":"x2"},"y2":{"field":"y2"}}},
{"data":{"name":"hspoke"},"mark":{"type":"rule","stroke":"#262626","strokeWidth":4},"encoding":{"x2":{"field":"x2"},"y2":{"field":"y2"}}},
{"data":{"name":"labels"},"mark":{"type":"text","font":"Liberation Sans","fontSize":33,"fill":"#111111","align":"center","baseline":"middle"},"encoding":{"text":{"field":"t"}}},
{"data":{"values":[{"t":"(c)","x":0.179,"y":-1.447}]},"mark":{"type":"text","font":"Liberation Serif","fontWeight":"bold","fontSize":80,"fill":"black","align":"center","baseline":"middle"},"encoding":{"text":{"field":"t"}}}
]}
]}
